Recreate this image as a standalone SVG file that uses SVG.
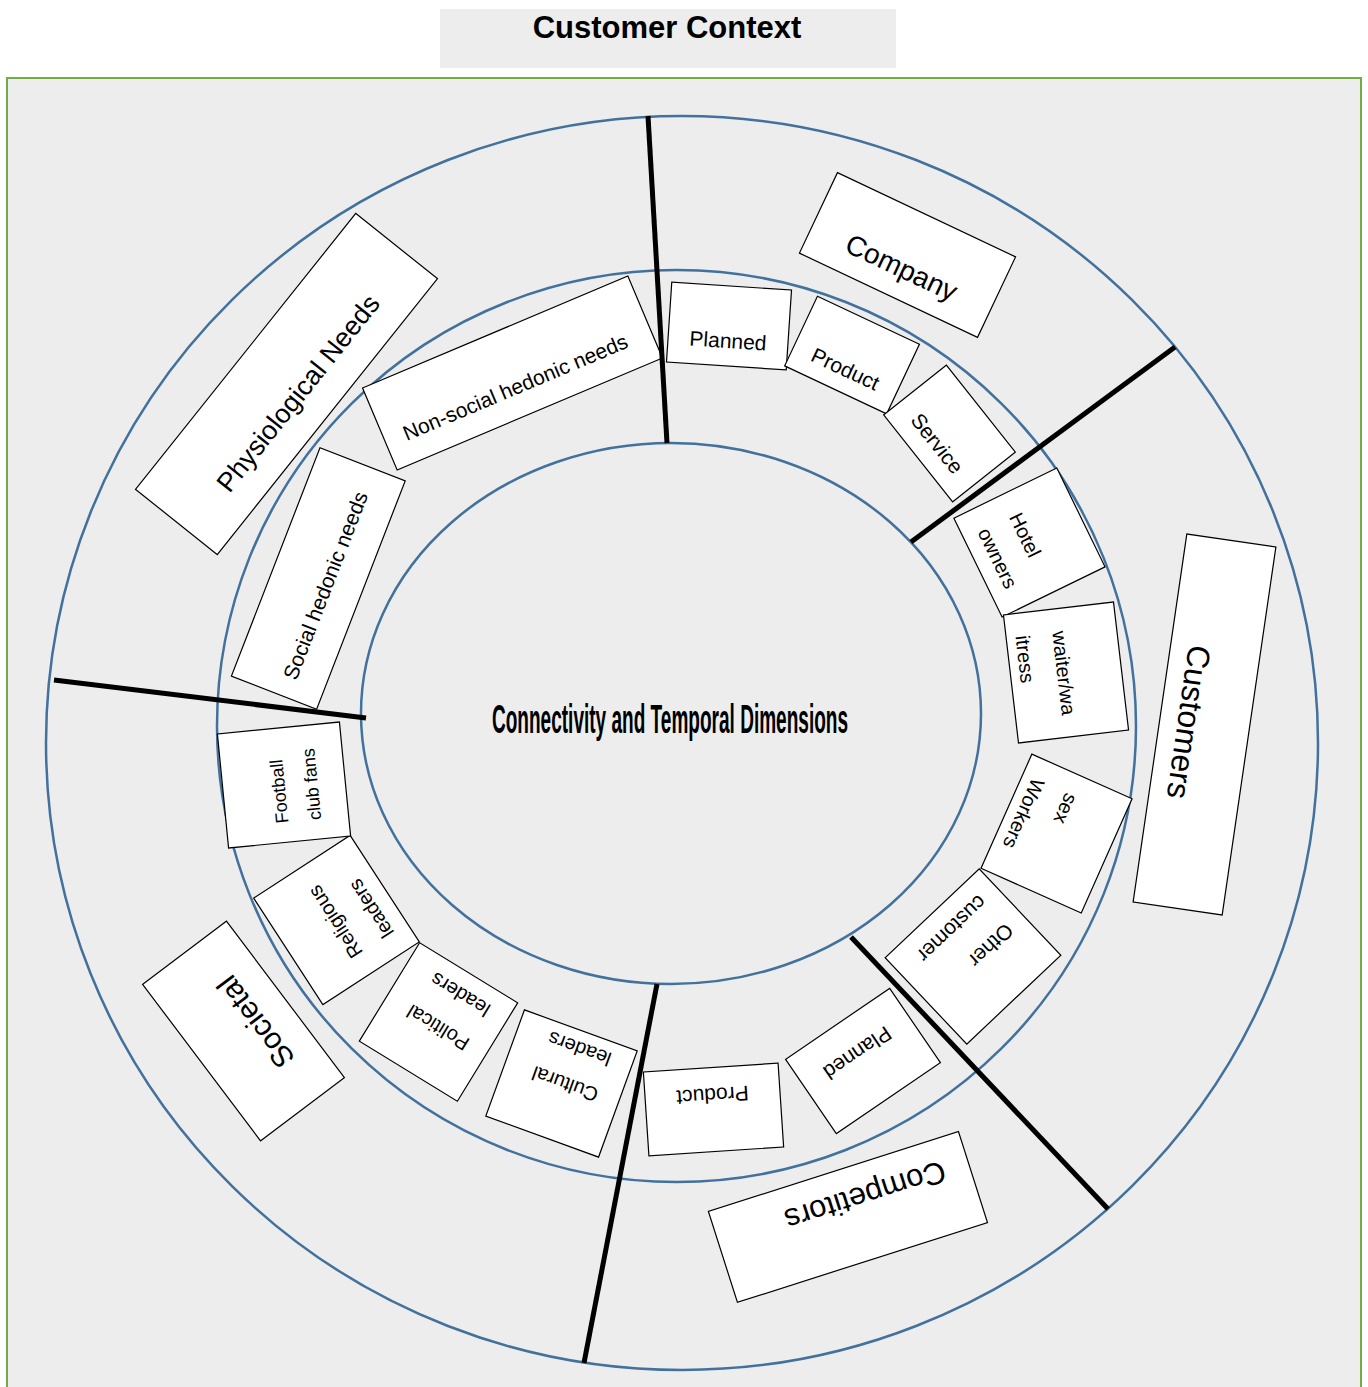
<svg xmlns="http://www.w3.org/2000/svg" width="1368" height="1387" viewBox="0 0 1368 1387">
<style>
.bg{fill:#ededed}
.ring{fill:none;stroke:#41719c;stroke-width:2.5}
.box{fill:#fff;stroke:#000;stroke-width:1.2}
.div{stroke:#000;stroke-width:5;stroke-linecap:butt}
text{font-family:"Liberation Sans",Arial,sans-serif;fill:#000}
.c{text-anchor:middle;dominant-baseline:central}
.l{text-anchor:start;dominant-baseline:central}
.s18{font-size:18px}.s20{font-size:20px}.s21{font-size:21px}.s27{font-size:27px}.s28{font-size:28px}.s30{font-size:30px}.s31{font-size:31px}.s32{font-size:32px}
</style>
<rect x="0" y="0" width="1368" height="1387" fill="#fff"/>
<g id="title">
<rect class="bg" x="440" y="9" width="456" height="59"/>
<text x="667" y="38" text-anchor="middle" font-weight="bold" font-size="31">Customer Context</text>
</g>
<rect id="frame" class="bg" x="7" y="78" width="1354" height="1330" stroke="#70ad47" stroke-width="2"/>
<g id="rings">
<ellipse class="ring" cx="682" cy="743" rx="636" ry="627"/>
<ellipse class="ring" cx="676.5" cy="726" rx="459.5" ry="456"/>
<ellipse class="ring" cx="671" cy="713.5" rx="310" ry="270.5"/>
</g>
<g id="center-label">
<text x="670" y="733" text-anchor="middle" font-family="DejaVu Sans Condensed,DejaVu Sans,sans-serif" font-weight="bold" font-size="40" textLength="356" lengthAdjust="spacingAndGlyphs">Connectivity and Temporal Dimensions</text>
</g>
<g id="nodes">
<g id="physiological-needs" transform="translate(286.5,384) rotate(-51.4)">
<rect class="box" x="-176.5" y="-52.3" width="353" height="104.6"/>
<text class="c s27" x="0" y="15">Physiological Needs</text>
</g>
<g id="company" transform="translate(907.5,255) rotate(25.3)">
<rect class="box" x="-98.5" y="-44.5" width="197" height="89"/>
<text class="c s28" x="0" y="14">Company</text>
</g>
<g id="customers" transform="translate(1204.5,724.5) rotate(98.3)">
<rect class="box" x="-186" y="-45" width="372" height="90"/>
<text class="c s32" x="0" y="16">Customers</text>
</g>
<g id="competitors" transform="translate(848,1217) rotate(162.3)">
<rect class="box" x="-131.2" y="-47.7" width="262.5" height="95.5"/>
<text class="c s31" x="-23" y="15">Competitors</text>
</g>
<g id="societal" transform="translate(243.5,1031) rotate(233)">
<rect class="box" x="-98" y="-52.5" width="196" height="105"/>
<text class="c s30" x="0" y="15">Societal</text>
</g>
<g id="non-social-hedonic-needs" transform="translate(512.5,373) rotate(-22.9)">
<rect class="box" x="-144" y="-44.5" width="288" height="89"/>
<text class="c s21" x="-3" y="14">Non-social hedonic needs</text>
</g>
<g id="social-hedonic-needs" transform="translate(318.3,578.5) rotate(-68.8)">
<rect class="box" x="-122.5" y="-45.7" width="245" height="91.4"/>
<text class="c s21" x="-4" y="9">Social hedonic needs</text>
</g>
<g id="planned-top" transform="translate(729,326) rotate(3.8)">
<rect class="box" x="-60" y="-40" width="120" height="80"/>
<text class="c s21" x="0" y="14.5">Planned</text>
</g>
<g id="product-top" transform="translate(852,355) rotate(25.2)">
<rect class="box" x="-56.3" y="-38.5" width="112.7" height="77"/>
<text class="c s21" x="0" y="15.3">Product</text>
</g>
<g id="service" transform="translate(949.5,433.5) rotate(51.6)">
<rect class="box" x="-55.5" y="-40" width="111" height="80"/>
<text class="c s21" x="0" y="15.6">Service</text>
</g>
<g id="hotel-owners" transform="translate(1029.5,542.5) rotate(64)">
<rect class="box" x="-55" y="-57.2" width="110" height="114.5"/>
<text class="l s20" x="-32" y="0.6">Hotel</text>
<text class="l s20" x="-32" y="35.4">owners</text>
</g>
<g id="waiter-waitress" transform="translate(1066,672.5) rotate(83.3)">
<rect class="box" x="-64.5" y="-55.4" width="129" height="110.8"/>
<text class="l s20" x="-42" y="2">waiter/wa</text>
<text class="l s20" x="-42" y="39">itress</text>
</g>
<g id="sex-workers" transform="translate(1056.5,833.5) rotate(114)">
<rect class="box" x="-62.5" y="-54.9" width="125" height="109.7"/>
<text class="l s20" x="-42" y="1.6">sex</text>
<text class="l s20" x="-42" y="37.9">Workers</text>
</g>
<g id="other-customer" transform="translate(973,956.5) rotate(136.6)">
<rect class="box" x="-64.7" y="-59.4" width="129.4" height="118.8"/>
<text class="l s21" x="-47" y="-4.5">Other</text>
<text class="l s21" x="-47" y="34.4">customer</text>
</g>
<g id="planned-bottom" transform="translate(863,1061) rotate(145.7)">
<rect class="box" x="-63" y="-45" width="126" height="90"/>
<text class="c s21" x="0" y="9.6">Planned</text>
</g>
<g id="product-bottom" transform="translate(713.5,1109.5) rotate(176.2)">
<rect class="box" x="-67.5" y="-42" width="135" height="84"/>
<text class="c s21" x="0" y="13.8">Product</text>
</g>
<g id="cultural-leaders" transform="translate(561.5,1083.5) rotate(200)">
<rect class="box" x="-60" y="-56.5" width="120" height="113"/>
<text class="l s20" x="-38" y="0.7">Cultural</text>
<text class="l s20" x="-38" y="38.7">leaders</text>
</g>
<g id="political-leaders" transform="translate(438.5,1022) rotate(211.5)">
<rect class="box" x="-57.5" y="-57.7" width="115" height="115.4"/>
<text class="l s20" x="-37" y="-5">Political</text>
<text class="l s20" x="-37" y="34.8">leaders</text>
</g>
<g id="religious-leaders" transform="translate(336.5,920) rotate(237)">
<rect class="box" x="-63.5" y="-57.5" width="127" height="115"/>
<text class="l s20" x="-42" y="-2.2">Religious</text>
<text class="l s20" x="-42" y="35.1">leaders</text>
</g>
<g id="football-club-fans" transform="translate(284,785) rotate(264.4)">
<rect class="box" x="-57.3" y="-61.3" width="114.6" height="122.6"/>
<text class="l s18" x="-38" y="-5.3">Football</text>
<text class="l s18" x="-38" y="27.7">club fans</text>
</g>
</g>
<g id="connectors">
<line class="div" x1="648" y1="116" x2="667" y2="443"/>
<line class="div" x1="1175" y1="347" x2="911" y2="542"/>
<line class="div" x1="851" y1="937" x2="1108" y2="1209"/>
<line class="div" x1="657" y1="984" x2="584" y2="1363"/>
<line class="div" x1="54" y1="680" x2="366" y2="718"/>
</g>
</svg>
